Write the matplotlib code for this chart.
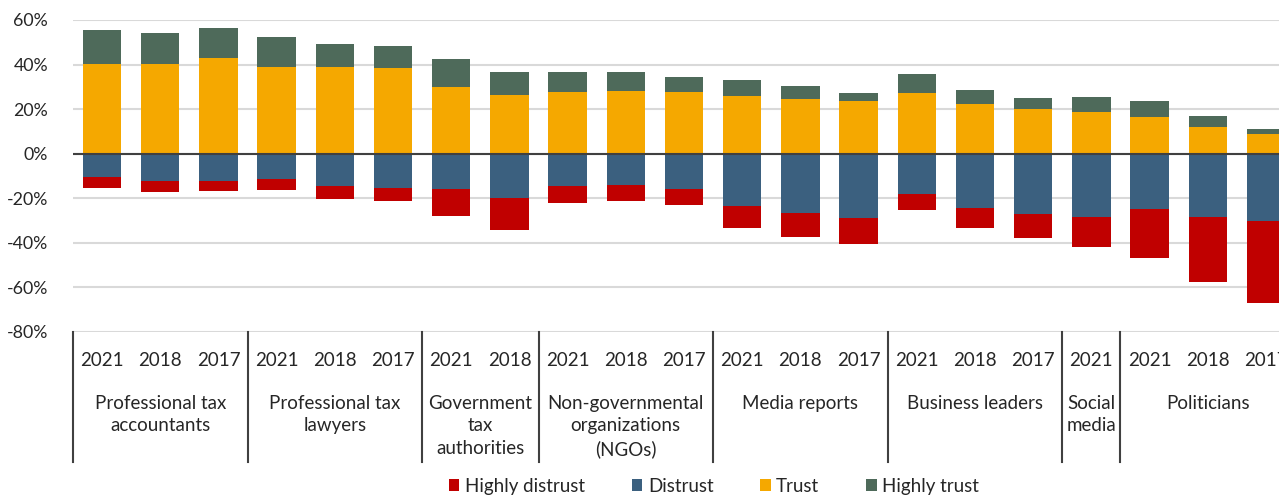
import matplotlib.pyplot as plt
import numpy as np

plt.rcParams['font.family'] = ['Lato', 'DejaVu Sans']

# data (percent of respondents)
years = ['2021', '2018', '2017', '2021', '2018', '2017', '2021', '2018',
         '2021', '2018', '2017', '2021', '2018', '2017', '2021', '2018',
         '2017', '2021', '2021', '2018', '2017']
groups = ['Professional tax\naccountants', 'Professional tax\nlawyers',
          'Government\ntax\nauthorities', 'Non-governmental\norganizations\n(NGOs)',
          'Media reports', 'Business leaders', 'Social\nmedia', 'Politicians']
group_sizes = [3, 3, 2, 3, 3, 3, 1, 3]

trust = [40.3, 40.3, 42.9, 39.0, 39.0, 38.6, 30.1, 26.5, 27.5, 28.3, 27.5,
         26.0, 24.4, 23.6, 27.1, 22.3, 20.0, 18.8, 16.3, 12.0, 8.7]
highly_trust = [15.3, 13.7, 13.6, 13.4, 10.4, 9.9, 12.4, 10.0, 9.3, 8.2, 6.7,
                7.3, 6.0, 3.8, 8.5, 6.3, 4.8, 6.8, 7.3, 5.1, 2.5]
distrust = [10.6, 12.4, 12.1, 11.5, 14.5, 15.6, 15.9, 19.7, 14.7, 14.1, 15.9,
            23.3, 26.5, 28.7, 18.2, 24.5, 26.9, 28.3, 25.0, 28.3, 30.4]
highly_distrust = [4.8, 4.8, 4.6, 4.8, 5.7, 5.5, 11.9, 14.5, 7.2, 7.0, 7.1,
                   10.2, 10.7, 12.0, 7.1, 9.0, 10.8, 13.7, 21.7, 29.4, 36.5]

C_HD = '#c00000'
C_D = '#3b607f'
C_T = '#f5a800'
C_HT = '#4e6a5a'
TXT = '#262626'

x = np.arange(len(years))
t = np.array(trust)
ht = np.array(highly_trust)
d = np.array(distrust)
hd = np.array(highly_distrust)

fig = plt.figure(figsize=(12.79, 4.98), dpi=100)
# axes runs a bit past the right edge, like the cropped original
ax = fig.add_axes([73 / 1279, 1 - 332 / 498, 1222 / 1279, 312 / 498])

w = 0.66
ax.bar(x, -hd, w, bottom=-d, color=C_HD, label='Highly distrust', zorder=3)
ax.bar(x, -d, w, color=C_D, label='Distrust', zorder=3)
ax.bar(x, t, w, color=C_T, label='Trust', zorder=3)
ax.bar(x, ht, w, bottom=t, color=C_HT, label='Highly trust', zorder=3)

ax.set_xlim(-0.5, len(years) - 0.5)
ax.set_ylim(-80, 60)
ax.set_yticks(np.arange(-80, 61, 20))
ax.set_yticklabels([f'{v}%' for v in range(-80, 61, 20)], fontsize=12.8, color=TXT)
ax.tick_params(axis='y', length=0, pad=18)
ax.set_xticks([])
ax.grid(axis='y', color='#d9d9d9', lw=1.5, zorder=0)
for s in ax.spines.values():
    s.set_visible(False)
ax.axhline(0, color='#404040', lw=1.5, zorder=4)

# category axis: years, group names and separators
tr = ax.get_xaxis_transform()
for xi, yr in zip(x, years):
    ax.text(xi, -29 / 312, yr, transform=tr, ha='center', va='center',
            fontsize=13.5, color=TXT)

bounds = np.concatenate([[0], np.cumsum(group_sizes)]) - 0.5
for b in bounds:
    ax.plot([b, b], [0, -130 / 312], transform=tr, color='#404040',
            lw=1.5, clip_on=False)
for g, lo, hi in zip(groups, bounds[:-1], bounds[1:]):
    ax.text((lo + hi) / 2, -63 / 312, g, transform=tr, ha='center', va='top',
            fontsize=13.5, color=TXT, linespacing=1.38)

fig.legend(loc='center', bbox_to_anchor=(714 / 1279, 1 - 486 / 498), ncol=4,
           frameon=False, fontsize=13.5, handlelength=0.55, handleheight=0.55,
           handletextpad=0.3, columnspacing=2.5, labelcolor=TXT)

fig.savefig('out.png', dpi=100)
